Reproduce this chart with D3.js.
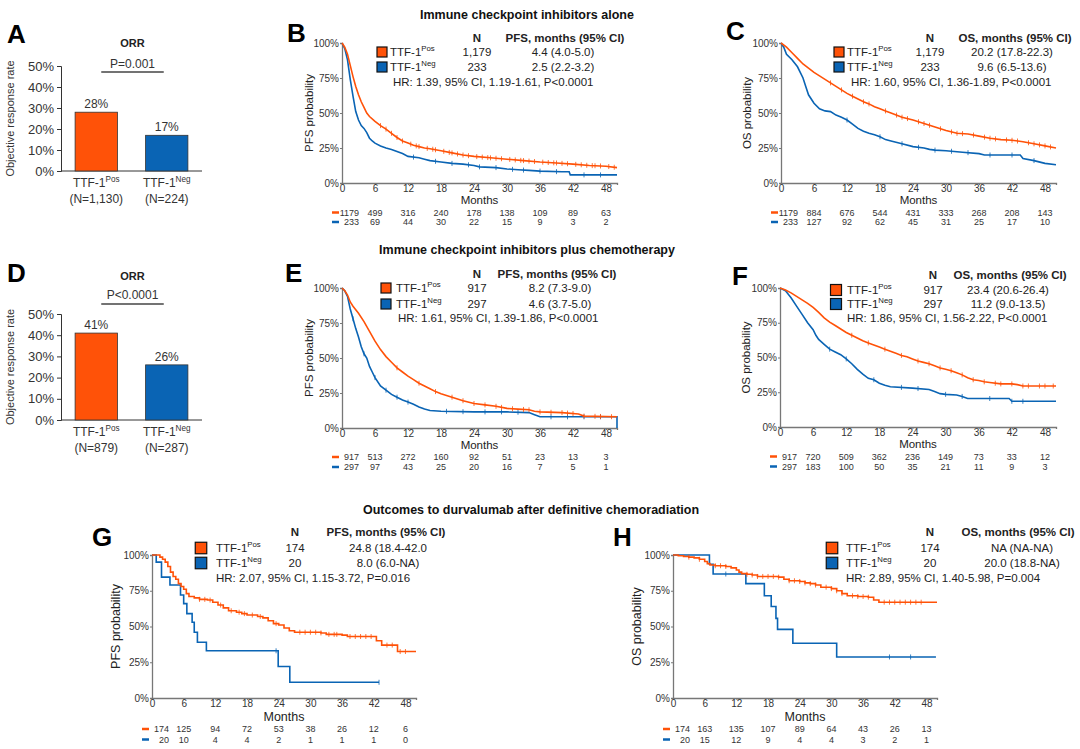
<!DOCTYPE html>
<html>
<head>
<meta charset="utf-8">
<script src="https://cdn.jsdelivr.net/npm/d3@7"></script>
<style>
  body { margin: 0; background: #fff; }
  svg { display: block; }
</style>
</head>
<body>
<svg id="fig" width="1080" height="749"></svg>
<script>
// ---- donnees ------------------------------------------------------------

const groups = ["Pos", "Neg"];
const monthTicks = [0, 6, 12, 18, 24, 30, 36, 42, 48];
const survTicks = [0, 0.25, 0.5, 0.75, 1];
const orrTicks = [0, 0.1, 0.2, 0.3, 0.4, 0.5];

// ORR (A, D)
const orrAlone = [0.28, 0.17];
const orrAloneN = ["(N=1,130)", "(N=224)"];
const orrChemo = [0.41, 0.26];
const orrChemoN = ["(N=879)", "(N=287)"];

// B : PFS, ICI seuls  [mois, %]
const pfsAlonePos = [[0,100],[0.5,97],[1,92],[1.5,84],[2,76],[2.5,69],[3,63],[3.5,58],[4,54],[4.5,50],[5,47.5],[6,44],[7,41],[8,38.5],[9,35.5],[10,32.5],[11,30],[12,28.5],[13,27],[14,26],[15,25],[16,24.5],[18,23],[20,21.5],[22,20],[24,19],[27,18],[30,17],[33,16],[36,15],[39,14.3],[42,13.5],[45,12.5],[48,12],[50,11]];
const pfsAloneNeg = [[0,100],[0.5,96],[1,88],[1.5,74],[2,62],[2.5,51],[3,45],[3.5,41],[4,39],[4.5,36],[5,32],[5.5,30],[6,28.5],[7,26.5],[8,25],[9,24],[10,22.5],[11,21],[12,19],[14,18],[15,17],[16,16],[18,15],[20,14],[22,13.5],[24,12.5],[25,11.5],[28,11],[30,10],[32,9.5],[34,9],[36,8.5],[40,8],[41.3,8],[41.5,5.8],[50,5.8]];
const pfsAlonePosCens = [7,8,9,10,11,12.5,13.5,14,15.5,16.5,17,18.5,19.5,20,21,22,23,24.5,25.5,26.5,27,28,29,30.5,31.5,32.5,33,34,35,36.5,37.5,38.5,39,40,41,42.5,43.5,44.5,45.5,46,47,48.5,49.5];
const pfsAloneNegCens = [13,17,20,23,25,28,31,33,36,39,44,47];
const pfsAloneRiskPos = [1179,499,316,240,178,138,109,89,63];
const pfsAloneRiskNeg = [233,69,44,30,22,15,9,3,2];

// C : OS, ICI seuls
const osAlonePos = [[0,100],[1,97],[2,93],[3,89],[4,85],[5,82],[6,79],[7,76.5],[8,74],[9,71.5],[10,69],[11,66.5],[12,64],[13,62],[14,60],[15,58],[16,56.5],[17,54.5],[18,53],[19,51.5],[20,50],[22,47],[24,45],[26,42.5],[28,40],[30,37.5],[32,35.5],[34,35],[36,33.5],[38,32],[40,31],[42,30.5],[44,29.5],[46,28],[48,26.5],[50,25]];
const osAloneNeg = [[0,100],[0.5,97],[1,92],[2,88],[3,83],[4,75],[4.5,69],[5,63],[6,57],[7,53],[8,51.5],[9,51],[10,48.5],[11,47],[12,45],[13,42],[14,39],[15,37],[16,35.5],[17,34.5],[18,33],[19,31],[20,30],[22,28],[24,26],[26,25],[27,24],[28,23.5],[30,23],[33,22],[36,21],[37,20],[43.5,20],[44,17.5],[46,16],[48,14],[50,13]];
const osAlonePosCens = [9,11,13,15,16,19,21,22,23,25,26,27,29,31,32,33,35,37,38,39,41,42,43,45,46,47,48,49];
const osAloneNegCens = [12,18,22,25,28,31,34,38,42,46];
const osAloneRiskPos = [1179,884,676,544,431,333,268,208,143];
const osAloneRiskNeg = [233,127,92,62,45,31,25,17,10];

// E : PFS, ICI + chimio
const pfsChemoPos = [[0,100],[0.5,98],[1,95],[1.5,90],[2,87],[3,82],[4,76],[5,69],[6,62],[7,56],[8,51],[9,47],[10,43],[11,40],[12,37],[13,34.5],[14,32],[15,30],[16,28],[17,26],[18,24.5],[20,22],[22,19.5],[24,17.5],[26,16.5],[28,15.5],[30,14],[32,13.5],[34,13],[35,12],[36,11.5],[40,11],[43,10],[44,8.5],[50,8]];
const pfsChemoNeg = [[0,100],[0.5,98],[1,94],[1.5,85],[2,78],[2.5,71],[3,65],[3.5,58],[4,53],[4.5,50],[5,44],[5.5,40],[6,36],[7,30],[8,27],[9,24],[10,22],[11,20],[12,18.5],[13,17],[14,15],[15,13.5],[16,12.5],[18,12],[24,11.5],[30,11.5],[34,11],[35,9.5],[36,8],[50,8],[50,0]];
const pfsChemoPosCens = [10,14,17,20,22,24,26,28,29,31,33,34,36,38,40,41,42,44,46,47,49];
const pfsChemoNegCens = [2,4,6,8,10,12,19,22,26,29,32,38,41,44,47];
const pfsChemoRiskPos = [917,513,272,160,92,51,23,13,3];
const pfsChemoRiskNeg = [297,97,43,25,20,16,7,5,1];

// F : OS, ICI + chimio
const osChemoPos = [[0,100],[1,98.5],[2,96.5],[3,94],[4,91.5],[5,89],[6,86],[7,82.5],[8,78.5],[9,75.5],[10,73],[11,70.5],[12,68],[13,66],[14,64],[15,62],[16,60.5],[17,59],[18,57.5],[19,56],[20,54.5],[21,53],[22,51.5],[23,50.5],[24,49],[25,47.5],[26,46.5],[27,45.5],[28,44],[29,42.5],[30,41.5],[31,40.5],[32,39],[33,37.5],[34,35.5],[35,34],[36,33.5],[37,32.5],[38,32],[40,31],[42,31],[43,30.5],[44,29.5],[50,29.5]];
const osChemoNeg = [[0,100],[1,98],[2,93],[3,87],[4,81],[5,75],[6,70],[6.5,66],[7,63],[8,59.5],[9,56],[10,54],[11,52],[12,49],[13,45.5],[14,41.5],[15,38],[16,35],[17,34],[18,31.5],[19,30],[20,29],[24,28],[27,27],[28,25.5],[29,24],[30,23.5],[32,23],[33,22],[34,20.5],[41.5,20.5],[42,18.5],[50,18.5]];
const osChemoPosCens = [13,16,19,22,25,27,29,31,33,35,37,39,40,42,44,45,47,48,49.5];
const osChemoNegCens = [9,12,17,22,25,30,33,38,42,44];
const osChemoRiskPos = [917,720,509,362,236,149,73,33,12];
const osChemoRiskNeg = [297,183,100,50,35,21,11,9,3];

// G : PFS, durvalumab
const pfsDurvaPos = [[0,100],[1,100],[1.5,98.5],[2,97],[2.5,95],[3,92],[3.5,88],[4,85],[4.5,83],[5,80],[5.5,78],[6,76],[6.5,73],[7,71],[8,70],[9,69],[10.5,68.5],[11.5,67],[12.5,65],[13.5,63],[14.5,61],[16,60],[17,59],[18,58],[20,57],[21,56],[22,54],[23,52],[24,51],[25,49],[26,47],[27,46],[32,45.5],[33,44.5],[36,44],[37,43],[42,43],[42.5,40],[43.5,37],[46.5,32.5],[50,32.5]];
const pfsDurvaNeg = [[0,100],[0.8,95],[1.8,84.5],[3.4,79],[5.4,72],[6,66],[6.6,59],[7.6,53],[8,46],[8.6,39],[10.3,33],[23.9,22],[26.1,11],[43,11]];
const pfsDurvaPosCens = [9,10,11,13,15,16.5,17.5,19,20.5,23.5,28,29,30,31,32,33.5,34.5,35,37.5,38.5,39.5,40.5,41.5,44.5,45.5,47,48];
const pfsDurvaNegCens = [23.5,43];
const pfsDurvaRiskPos = [174,125,94,72,53,38,26,12,6];
const pfsDurvaRiskNeg = [20,10,4,4,2,1,1,1,0];

// H : OS, durvalumab
const osDurvaPos = [[0,100],[1,99.5],[2,99],[3,98.5],[4,98],[5,97],[6,95.5],[6.5,94],[7,93],[8,92.5],[10,92],[11,91],[12,89.5],[12.5,88],[13,87],[14,86.5],[15,86],[16,85],[20,84.5],[21,83],[22,82],[24,81.5],[25,80.5],[26,80],[27,79],[28,77.5],[30,76.5],[31,75],[32,73],[33,71.5],[35,71],[37,70.5],[38,68.5],[39,67],[50,67]];
const osDurvaNeg = [[0,100],[6.9,93.5],[7.6,86.7],[13.8,80],[17.3,71.5],[18.6,64],[19.5,55.7],[19.8,48],[22.7,38.3],[31,28.7],[49.8,28.7]];
const osDurvaPosCens = [3,5,8,9,10,14,15,16,17,18,19,20,22,23,24,25,26,27,29,30,31,32,34,35,36,37,40,41,42,43,44,45,46,47];
const osDurvaNegCens = [10,41,45];
const osDurvaRiskPos = [174,163,135,107,89,64,43,26,13];
const osDurvaRiskNeg = [20,15,12,9,4,4,3,2,1];

// ---- styles -------------------------------------------------------------
const FONT = "'Liberation Sans', Arial, sans-serif";
const ORANGE = "#ff5208";
const BLUE = "#0a64b4";
const TXT = "#222";

const svg = d3.select("#fig").attr("font-family", FONT);

// texte avec exposant (TTF-1^Pos)
function supText(sel, base, sup, size) {
  sel.append("tspan").text(base);
  sel.append("tspan").attr("dy", -size * 0.42).attr("font-size", size * 0.68).text(sup);
}

function survAt(curve, t, step) {
  const i = d3.bisector(d => d[0]).right(curve, t) - 1;
  if (i < 0) return curve[0][1];
  if (step || i >= curve.length - 1) return curve[i][1];
  const a = curve[i], b = curve[i + 1];
  return a[1] + (b[1] - a[1]) * (t - a[0]) / (b[0] - a[0]);
}

function letter(l, x, y) {
  svg.append("text").attr("x", x).attr("y", y).attr("font-size", 26)
    .attr("font-weight", "bold").attr("fill", "#000").text(l);
}

// ---- bar charts ORR -------------------------------------------------------
function drawORR(c) {
  const g = svg.append("g");
  const y = d3.scaleLinear().domain([0, 0.5]).range([c.bottom, c.top]);
  const x = d3.scaleBand().domain(groups).range([c.left, c.right])
              .paddingInner(0.4).paddingOuter(0.2);
  const bw = x.bandwidth();

  const ax = g.append("g").attr("transform", `translate(${c.left},0)`)
    .call(d3.axisLeft(y).tickValues(orrTicks).tickFormat(d3.format(".0%")).tickSize(4).tickPadding(3));
  ax.attr("font-family", FONT).attr("font-size", 13);
  ax.selectAll("text").attr("fill", "#333");
  ax.selectAll("line").attr("stroke", "#333");
  ax.select(".domain").attr("stroke", "#333");

  g.append("line").attr("x1", c.left).attr("x2", c.right)
    .attr("y1", c.bottom).attr("y2", c.bottom).attr("stroke", "#333");

  g.selectAll("rect").data(c.values).join("rect")
    .attr("x", (d, i) => x(groups[i]))
    .attr("y", d => y(d))
    .attr("width", bw)
    .attr("height", d => y(0) - y(d))
    .attr("fill", (d, i) => i ? BLUE : ORANGE)
    .attr("stroke", "#333").attr("stroke-width", 0.8);

  g.selectAll(".val").data(c.values).join("text")
    .attr("x", (d, i) => x(groups[i]) + bw / 2)
    .attr("y", d => y(d) - 4)
    .attr("text-anchor", "middle").attr("font-size", 12).attr("fill", "#333")
    .text(d => Math.round(d * 100) + "%");

  groups.forEach((gr, i) => {
    const cx = x(gr) + bw / 2;
    const t = g.append("text").attr("x", cx).attr("y", c.bottom + 16)
      .attr("text-anchor", "middle").attr("font-size", 12).attr("fill", "#333");
    supText(t, "TTF-1", gr, 12);
    g.append("text").attr("x", cx).attr("y", c.bottom + 32)
      .attr("text-anchor", "middle").attr("font-size", 12).attr("fill", "#333")
      .text(c.nLabels[i]);
  });

  const midX = (c.left + c.right) / 2 + 1;
  g.append("text").attr("x", midX).attr("y", c.titleY).attr("text-anchor", "middle")
    .attr("font-size", 11).attr("font-weight", "bold").attr("fill", "#222").text("ORR");
  g.append("text").attr("x", midX).attr("y", c.pY).attr("text-anchor", "middle")
    .attr("font-size", 12).attr("fill", "#333").text(c.pText);
  g.append("line")
    .attr("x1", x("Pos") + bw / 2 + 5).attr("x2", x("Neg") + bw / 2 - 3)
    .attr("y1", c.pLineY).attr("y2", c.pLineY).attr("stroke", "#444").attr("stroke-width", 1.5);

  g.append("text")
    .attr("transform", `translate(14,${(c.top + c.bottom) / 2}) rotate(-90)`)
    .attr("text-anchor", "middle").attr("font-size", 11).attr("fill", "#333")
    .text("Objective response rate");
}

// ---- courbes Kaplan-Meier ------------------------------------------------
function drawKM(c) {
  const g = svg.append("g");
  const bottom = c.top + c.h;
  const x = d3.scaleLinear().domain([0, 50]).range([c.x0, c.x0 + c.w]);
  const y = d3.scaleLinear().domain([0, 1]).range([bottom, c.top]);

  const xa = g.append("g").attr("transform", `translate(0,${bottom})`)
    .call(d3.axisBottom(x).tickValues(monthTicks).tickSize(2).tickPadding(0));
  const ya = g.append("g").attr("transform", `translate(${c.x0},0)`)
    .call(d3.axisLeft(y).tickValues(survTicks).tickFormat(d3.format(".0%")).tickSize(2).tickPadding(1));
  [xa, ya].forEach(a => {
    a.attr("font-family", FONT).attr("font-size", 10);
    a.selectAll("text").attr("fill", "#333");
    a.selectAll("line").attr("stroke", "#777");
    a.select(".domain").attr("stroke", "#777").attr("stroke-width", 1.3);
  });

  const line = d3.line().x(d => x(d[0])).y(d => y(d[1] / 100))
    .curve(c.step ? d3.curveStepAfter : d3.curveLinear);

  [[c.neg, c.negCens, BLUE], [c.pos, c.posCens, ORANGE]].forEach(([curve, cens, col]) => {
    g.append("path").datum(curve).attr("d", line)
      .attr("fill", "none").attr("stroke", col).attr("stroke-width", 1.6);
    g.selectAll(null).data(cens).join("line")
      .attr("x1", t => x(t)).attr("x2", t => x(t))
      .attr("y1", t => y(survAt(curve, t, c.step) / 100) - 2.5)
      .attr("y2", t => y(survAt(curve, t, c.step) / 100) + 2.5)
      .attr("stroke", col).attr("stroke-width", 0.8);
  });

  // titres d'axes
  g.append("text").attr("x", c.x0 + c.w / 2).attr("y", bottom + c.monthsDy)
    .attr("dy", "0.35em").attr("text-anchor", "middle").attr("font-size", c.labSize)
    .attr("fill", "#222").text("Months");
  g.append("text")
    .attr("transform", `translate(${c.x0 - c.yLabDx},${c.top + c.h / 2}) rotate(-90)`)
    .attr("text-anchor", "middle").attr("dy", "0.35em").attr("font-size", c.labSize)
    .attr("fill", "#222").text(c.yLabel);

  // tableau des effectifs a risque
  [c.riskPos, c.riskNeg].forEach((row, r) => {
    const yy = bottom + c.riskDy[r];
    g.append("line").attr("x1", c.x0 - 10).attr("x2", c.x0 - 3)
      .attr("y1", yy).attr("y2", yy)
      .attr("stroke", r ? BLUE : ORANGE).attr("stroke-width", 2.5);
    g.selectAll(null).data(row).join("text")
      .attr("x", (d, i) => i === 0 ? c.x0 + 17 : x(monthTicks[i]))
      .attr("text-anchor", (d, i) => i === 0 ? "end" : "middle")
      .attr("y", yy).attr("dy", "0.35em").attr("font-size", 9).attr("fill", "#333")
      .text(d => d);
  });

  // legende
  const L = c.leg;
  g.append("text").attr("x", L.nx).attr("y", L.hy).attr("dy", "0.35em")
    .attr("text-anchor", "middle").attr("font-size", 11.5).attr("font-weight", "bold")
    .attr("fill", TXT).text("N");
  g.append("text").attr("x", L.hx).attr("y", L.hy).attr("dy", "0.35em")
    .attr("text-anchor", "middle").attr("font-size", 11.5).attr("font-weight", "bold")
    .attr("fill", TXT).text(c.header);
  groups.forEach((gr, i) => {
    const ry = i ? L.r2 : L.r1;
    g.append("rect").attr("x", L.sqx - L.sq / 2).attr("y", ry - L.sq / 2)
      .attr("width", L.sq).attr("height", L.sq)
      .attr("fill", i ? BLUE : ORANGE).attr("stroke", "#111").attr("stroke-width", 1.2);
    const t = g.append("text").attr("x", L.tx).attr("y", ry).attr("dy", "0.35em")
      .attr("font-size", 11.5).attr("fill", TXT);
    supText(t, "TTF-1", gr, 11.5);
    g.append("text").attr("x", L.nx).attr("y", ry).attr("dy", "0.35em")
      .attr("text-anchor", "middle").attr("font-size", 11.5).attr("fill", TXT).text(c.ns[i]);
    g.append("text").attr("x", L.vx).attr("y", ry).attr("dy", "0.35em")
      .attr("text-anchor", "middle").attr("font-size", 11.5).attr("fill", TXT).text(c.est[i]);
  });
  g.append("text").attr("x", L.hrx).attr("y", L.hry).attr("dy", "0.35em")
    .attr("font-size", 11.5).attr("fill", TXT).text(c.hr);
}

// ---- titres de sections -------------------------------------------------
[["Immune checkpoint inhibitors alone", 527, 19],
 ["Immune checkpoint inhibitors plus chemotherapy", 527, 254],
 ["Outcomes to durvalumab after definitive chemoradiation", 531, 514]].forEach(([t, x, y]) => {
  svg.append("text").attr("x", x).attr("y", y).attr("text-anchor", "middle")
    .attr("font-size", 12.5).attr("font-weight", "bold").attr("fill", "#111").text(t);
});

// ---- panneaux -----------------------------------------------------------
drawORR({ left: 61, right: 202, top: 66, bottom: 171, values: orrAlone, nLabels: orrAloneN,
          pText: "P=0.001", titleY: 47, pY: 68, pLineY: 72 });
drawORR({ left: 61, right: 202, top: 314, bottom: 420, values: orrChemo, nLabels: orrChemoN,
          pText: "P<0.0001", titleY: 280, pY: 299, pLineY: 304 });

drawKM({ x0: 342, top: 43, w: 275, h: 140, step: false, labSize: 11.5,
  pos: pfsAlonePos, neg: pfsAloneNeg, posCens: pfsAlonePosCens, negCens: pfsAloneNegCens,
  riskPos: pfsAloneRiskPos, riskNeg: pfsAloneRiskNeg, riskDy: [29.5, 39], monthsDy: 17,
  yLabel: "PFS probability", yLabDx: 33,
  header: "PFS, months (95% CI)", ns: ["1,179", "233"], est: ["4.4 (4.0-5.0)", "2.5 (2.2-3.2)"],
  hr: "HR: 1.39, 95% CI, 1.19-1.61, P<0.0001",
  leg: { hy: 38, nx: 477, hx: 565, r1: 52, r2: 67, hry: 82, sqx: 382, sq: 10, tx: 390, vx: 563, hrx: 393 } });

drawKM({ x0: 781, top: 43, w: 275, h: 140, step: false, labSize: 11.5,
  pos: osAlonePos, neg: osAloneNeg, posCens: osAlonePosCens, negCens: osAloneNegCens,
  riskPos: osAloneRiskPos, riskNeg: osAloneRiskNeg, riskDy: [29.5, 39], monthsDy: 17,
  yLabel: "OS probability", yLabDx: 34,
  header: "OS, months (95% CI)", ns: ["1,179", "233"], est: ["20.2 (17.8-22.3)", "9.6 (6.5-13.6)"],
  hr: "HR: 1.60, 95% CI, 1.36-1.89, P<0.0001",
  leg: { hy: 38, nx: 930, hx: 1015, r1: 52, r2: 67, hry: 82, sqx: 839, sq: 10, tx: 847, vx: 1012, hrx: 851 } });

drawKM({ x0: 342, top: 288, w: 275, h: 140, step: false, labSize: 11.5,
  pos: pfsChemoPos, neg: pfsChemoNeg, posCens: pfsChemoPosCens, negCens: pfsChemoNegCens,
  riskPos: pfsChemoRiskPos, riskNeg: pfsChemoRiskNeg, riskDy: [29, 39], monthsDy: 16.5,
  yLabel: "PFS probability", yLabDx: 33,
  header: "PFS, months (95% CI)", ns: ["917", "297"], est: ["8.2 (7.3-9.0)", "4.6 (3.7-5.0)"],
  hr: "HR: 1.61, 95% CI, 1.39-1.86, P<0.0001",
  leg: { hy: 274, nx: 477, hx: 557, r1: 288, r2: 304, hry: 318, sqx: 386, sq: 10, tx: 396, vx: 560, hrx: 398 } });

drawKM({ x0: 780, top: 288, w: 276, h: 139, step: false, labSize: 11.5,
  pos: osChemoPos, neg: osChemoNeg, posCens: osChemoPosCens, negCens: osChemoNegCens,
  riskPos: osChemoRiskPos, riskNeg: osChemoRiskNeg, riskDy: [29.5, 39.5], monthsDy: 17,
  yLabel: "OS probability", yLabDx: 34,
  header: "OS, months (95% CI)", ns: ["917", "297"], est: ["23.4 (20.6-26.4)", "11.2 (9.0-13.5)"],
  hr: "HR: 1.86, 95% CI, 1.56-2.22, P<0.0001",
  leg: { hy: 275, nx: 933, hx: 1010, r1: 290, r2: 304, hry: 318, sqx: 836, sq: 11, tx: 847, vx: 1008, hrx: 847 } });

drawKM({ x0: 152, top: 555, w: 264, h: 143, step: true, labSize: 12.5,
  pos: pfsDurvaPos, neg: pfsDurvaNeg, posCens: pfsDurvaPosCens, negCens: pfsDurvaNegCens,
  riskPos: pfsDurvaRiskPos, riskNeg: pfsDurvaRiskNeg, riskDy: [31, 41.5], monthsDy: 18.5,
  yLabel: "PFS probability", yLabDx: 36,
  header: "PFS, months (95% CI)", ns: ["174", "20"], est: ["24.8 (18.4-42.0", "8.0 (6.0-NA)"],
  hr: "HR: 2.07, 95% CI, 1.15-3.72, P=0.016",
  leg: { hy: 532, nx: 295, hx: 386, r1: 548, r2: 563, hry: 578, sqx: 201, sq: 11.5, tx: 216, vx: 388, hrx: 216 } });

drawKM({ x0: 673, top: 555, w: 264, h: 143, step: true, labSize: 12.5,
  pos: osDurvaPos, neg: osDurvaNeg, posCens: osDurvaPosCens, negCens: osDurvaNegCens,
  riskPos: osDurvaRiskPos, riskNeg: osDurvaRiskNeg, riskDy: [31, 41.5], monthsDy: 18.5,
  yLabel: "OS probability", yLabDx: 36,
  header: "OS, months (95% CI)", ns: ["174", "20"], est: ["NA (NA-NA)", "20.0 (18.8-NA)"],
  hr: "HR: 2.89, 95% CI, 1.40-5.98, P=0.004",
  leg: { hy: 532, nx: 930, hx: 1018, r1: 548, r2: 563, hry: 578, sqx: 832, sq: 11.5, tx: 846, vx: 1022, hrx: 846 } });

// lettres des panneaux
[["A", 7, 43], ["B", 287, 42], ["C", 726, 40], ["D", 7, 282],
 ["E", 285, 282], ["F", 732, 285], ["G", 92, 546], ["H", 613, 546]].forEach(d => letter(...d));
</script>
</body>
</html>
